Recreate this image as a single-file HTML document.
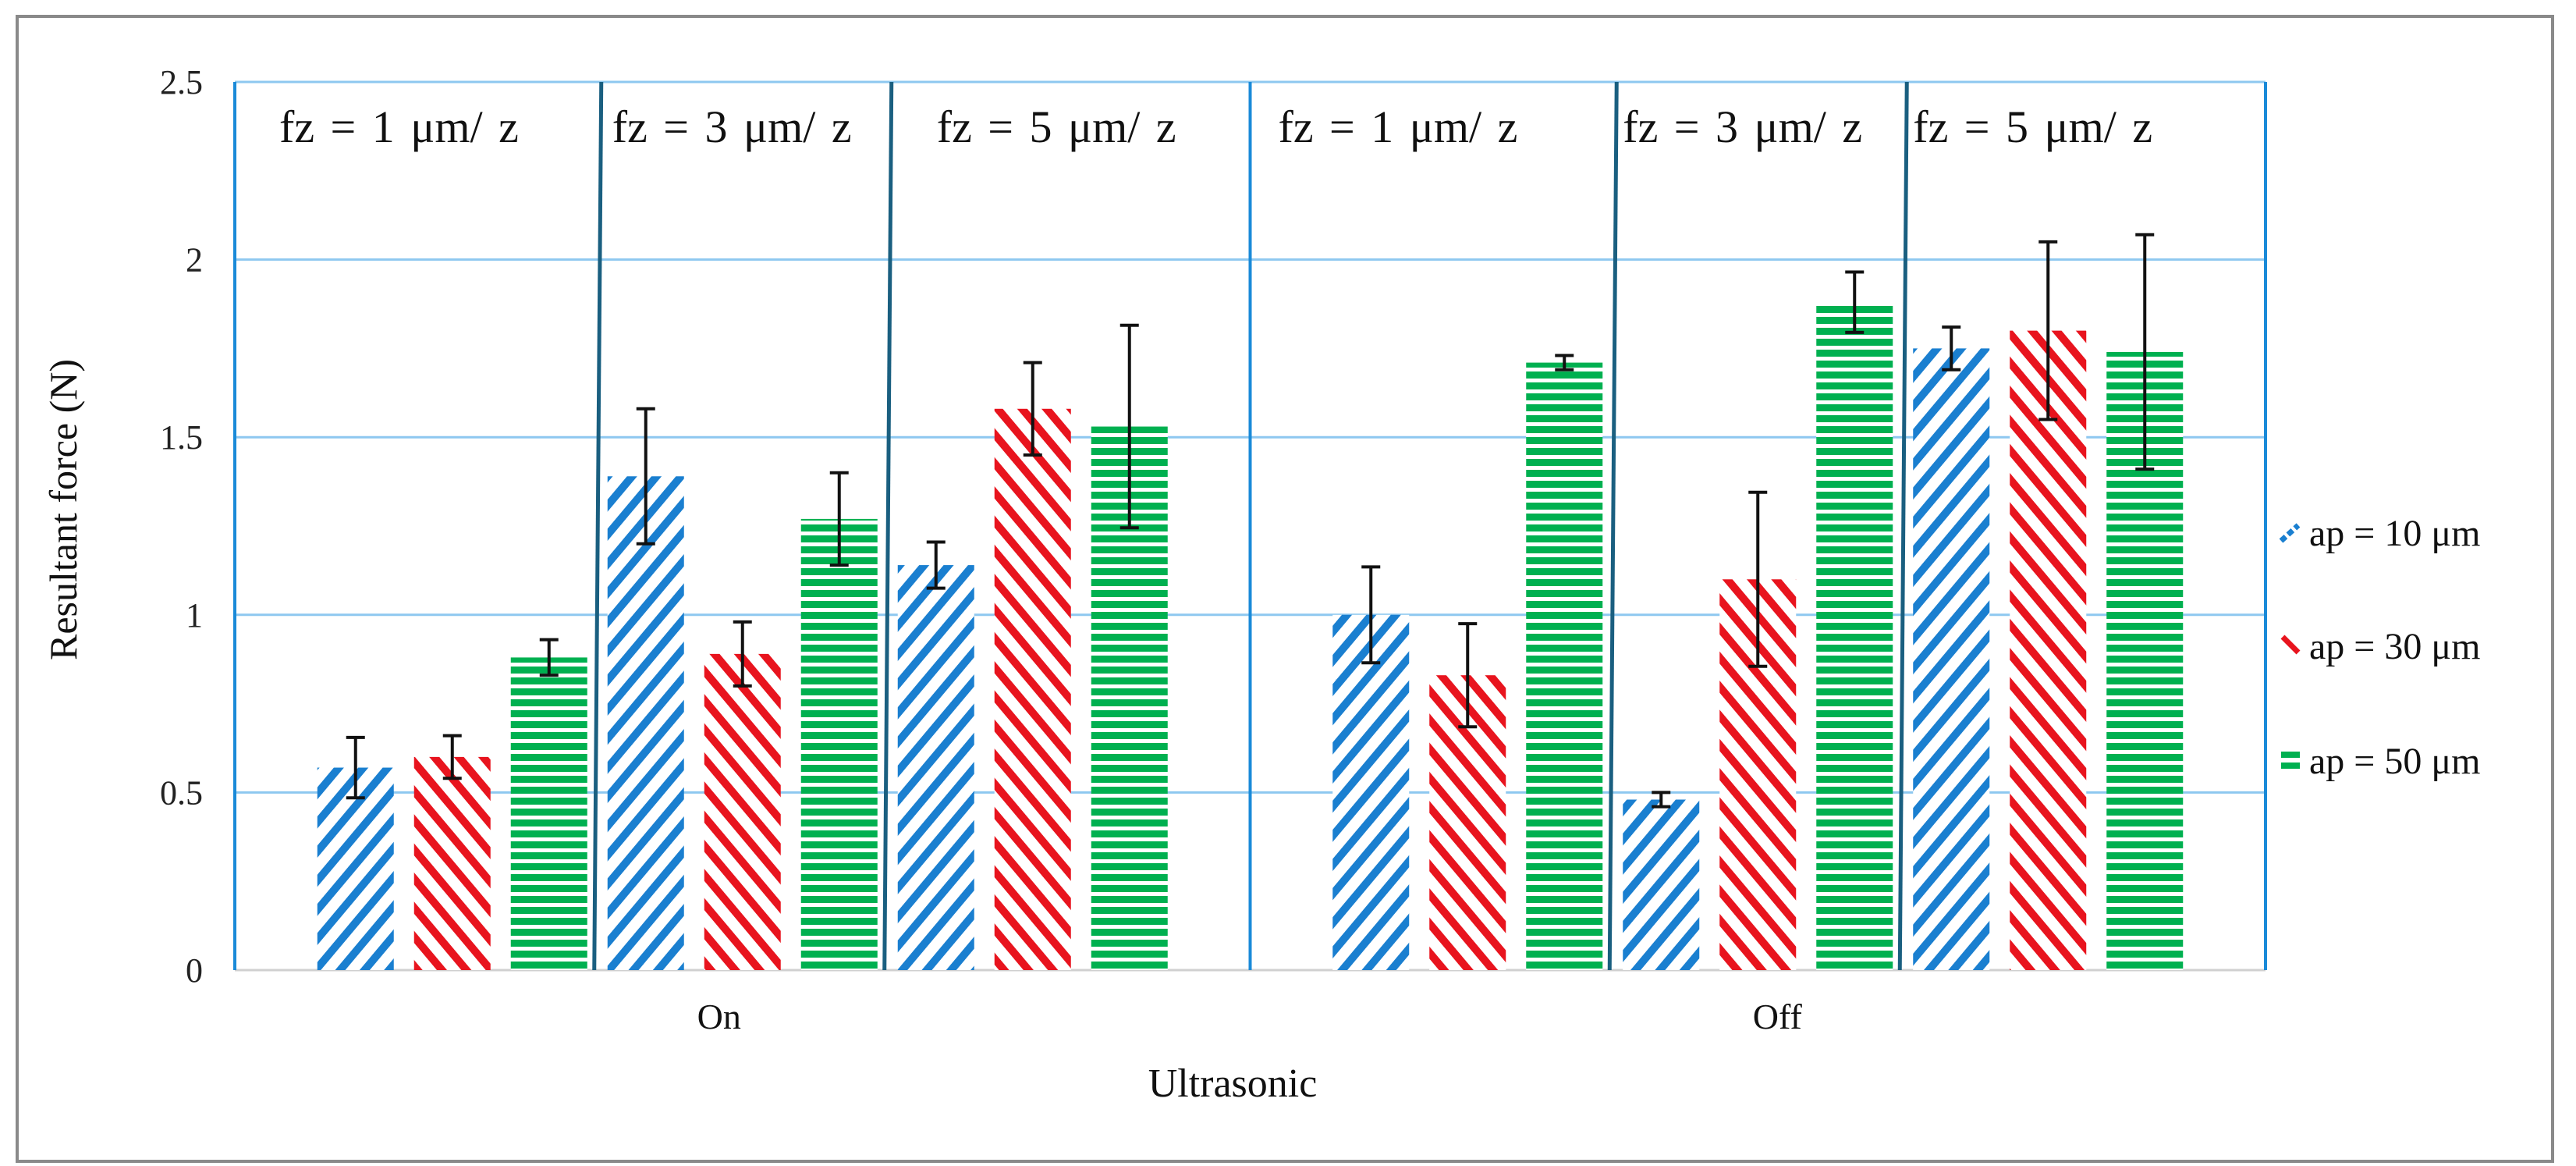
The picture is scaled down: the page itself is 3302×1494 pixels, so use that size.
<!DOCTYPE html>
<html><head><meta charset="utf-8"><style>
html,body{margin:0;padding:0;background:#fff;}
svg{display:block;font-family:"Liberation Serif",serif;}
</style></head><body>
<svg id="chart" width="3302" height="1494" viewBox="0 0 3302 1494">
<defs>
<pattern id="pBlue" patternUnits="userSpaceOnUse" width="24" height="24" patternTransform="rotate(-50)">
<rect width="24" height="24" fill="#fff"/><rect x="0" y="0" width="24" height="10" fill="#1a7fd0"/></pattern>
<pattern id="pRed" patternUnits="userSpaceOnUse" width="24" height="24" patternTransform="rotate(50)">
<rect width="24" height="24" fill="#fff"/><rect x="0" y="0" width="24" height="10" fill="#e8141e"/></pattern>
<pattern id="pGreen" patternUnits="userSpaceOnUse" width="20" height="14">
<rect width="20" height="14" fill="#fff"/><rect x="0" y="0" width="20" height="9" fill="#00b050"/></pattern>
</defs>
<rect x="22" y="21" width="3250" height="1467" fill="#fff" stroke="#8a8a8a" stroke-width="4"/>
<g id="grid"></g>
<g id="bars"></g>
<g id="overlay"></g>
</svg>
<script>
const categories = ["On", "Off"];
const fzLabels = ["fz = 1 μm/ z", "fz = 3 μm/ z", "fz = 5 μm/ z"];
const seriesNames = ["ap = 10 μm", "ap = 30 μm", "ap = 50 μm"];
// values indexed [category][fz][ap]
const ap10 = [[0.57, 1.39, 1.14], [1.00, 0.48, 1.75]];
const ap30 = [[0.60, 0.89, 1.58], [0.83, 1.10, 1.80]];
const ap50 = [[0.88, 1.27, 1.53], [1.71, 1.88, 1.74]];
const err10 = [[0.085, 0.19, 0.065], [0.135, 0.02, 0.06]];
const err30 = [[0.06, 0.09, 0.13], [0.145, 0.245, 0.25]];
const err50 = [[0.05, 0.13, 0.285], [0.02, 0.085, 0.33]];
const yTicks = [0, 0.5, 1, 1.5, 2, 2.5];

const NS = "http://www.w3.org/2000/svg";
const L = 301, R = 2904, Y0 = 1243, YT = 105, YMAX = 2.5;
const y = v => Y0 - (v / YMAX) * (Y0 - YT);
const catW = (R - L) / categories.length;
const barStep = 124, barW = 98;
const x = (c, j) => L + catW * (c + 0.5) + (j - 4) * barStep;
function mk(tag, attrs, parent, text) {
  const e = document.createElementNS(NS, tag);
  for (const k in attrs) e.setAttribute(k, attrs[k]);
  if (text !== undefined) e.textContent = text;
  parent.appendChild(e); return e;
}
const grid = document.getElementById('grid');
const bars = document.getElementById('bars');
const ov = document.getElementById('overlay');

yTicks.forEach(t => {
  if (t > 0) {
    const g = mk('line', {x1: L, x2: R, y1: y(t), y2: y(t), stroke: '#8ec8f0', 'stroke-width': 3}, grid);
    
    
  }
  const lb = mk('text', {x: 260, y: y(t) + 15, 'text-anchor': 'end', 'font-size': 44, fill: '#222'}, grid, String(t));
  
  
});
const xa = mk('line', {x1: L, x2: R, y1: Y0, y2: Y0, stroke: '#d0d0d0', 'stroke-width': 3}, grid);


[L, (L + R) / 2, R].forEach(xx => {
  const a = mk('line', {x1: xx, x2: xx, y1: YT, y2: Y0, stroke: '#1a8ad8', 'stroke-width': 4}, grid);
  
  
});

const vals = [ap10, ap30, ap50], errs = [err10, err30, err50];
const fills = ['url(#pBlue)', 'url(#pRed)', 'url(#pGreen)'];
const names = ['ap10', 'ap30', 'ap50'];
const labelPad = [[57, 19, 63], [36, 13, 13]];
categories.forEach((cat, c) => {
  for (let f = 0; f < 3; f++) {
    for (let s = 0; s < 3; s++) {
      const j = f * 3 + s, cx = x(c, j), v = vals[s][c][f], e = errs[s][c][f];
      const b = mk('rect', {x: cx - barW / 2, y: y(v), width: barW, height: Y0 - y(v), fill: fills[s]}, bars);
      
      
      const eg = mk('path', {d: `M${cx},${y(v + e)}V${y(v - e)}M${cx - 12},${y(v + e)}H${cx + 12}M${cx - 12},${y(v - e)}H${cx + 12}`, stroke: '#111', 'stroke-width': 4, fill: 'none'}, ov);
      
      
    }
    let regionStart = f === 0 ? L + catW * c : x(c, f * 3) - barStep / 2;
    if (f < 2) {
      const dx = x(c, f * 3 + 2) + barStep / 2;
      const d = mk('line', {x1: dx + 5, x2: dx - 4, y1: YT, y2: Y0, stroke: '#1a5f80', 'stroke-width': 5}, ov);
      
      
    }
    const t = mk('text', {x: regionStart + labelPad[c][f], y: 182, 'font-size': 58, 'word-spacing': 6, fill: '#111'}, ov, fzLabels[f]);
    
    
  }
  const cl = mk('text', {x: L + catW * (c + 0.5) + (c === 0 ? -30 : 25), y: 1318, 'text-anchor': 'middle', 'font-size': 46, fill: '#111'}, ov, cat);
  
  
});

const xt = mk('text', {x: 1580, y: 1405, 'text-anchor': 'middle', 'font-size': 52, fill: '#111'}, ov, 'Ultrasonic');


const yt = mk('text', {x: 0, y: 0, 'text-anchor': 'middle', 'font-size': 50, fill: '#111', transform: 'translate(98,653) rotate(-90)'}, ov, 'Resultant force (N)');



const ly = [683, 828, 975];
const mcol = ['#1a7fd0', '#e8141e', '#00b050'];
seriesNames.forEach((n, s) => {
  const g = mk('g', {}, ov);
  
  
  if (s === 0) mk('path', {d: `M2924,${ly[s] + 10}L2946,${ly[s] - 10}`, stroke: mcol[s], 'stroke-width': 7, 'stroke-dasharray': '8 4'}, g);
  if (s === 1) mk('path', {d: `M2926,${ly[s] - 12}L2946,${ly[s] + 8}`, stroke: mcol[s], 'stroke-width': 7}, g);
  if (s === 2) { mk('rect', {x: 2924, y: ly[s] - 12, width: 24, height: 8, fill: mcol[s]}, g); mk('rect', {x: 2924, y: ly[s] + 2, width: 24, height: 8, fill: mcol[s]}, g); }
  mk('text', {x: 2960, y: ly[s] + 16, 'font-size': 48, fill: '#111'}, g, n);
});
</script>
</body></html>
